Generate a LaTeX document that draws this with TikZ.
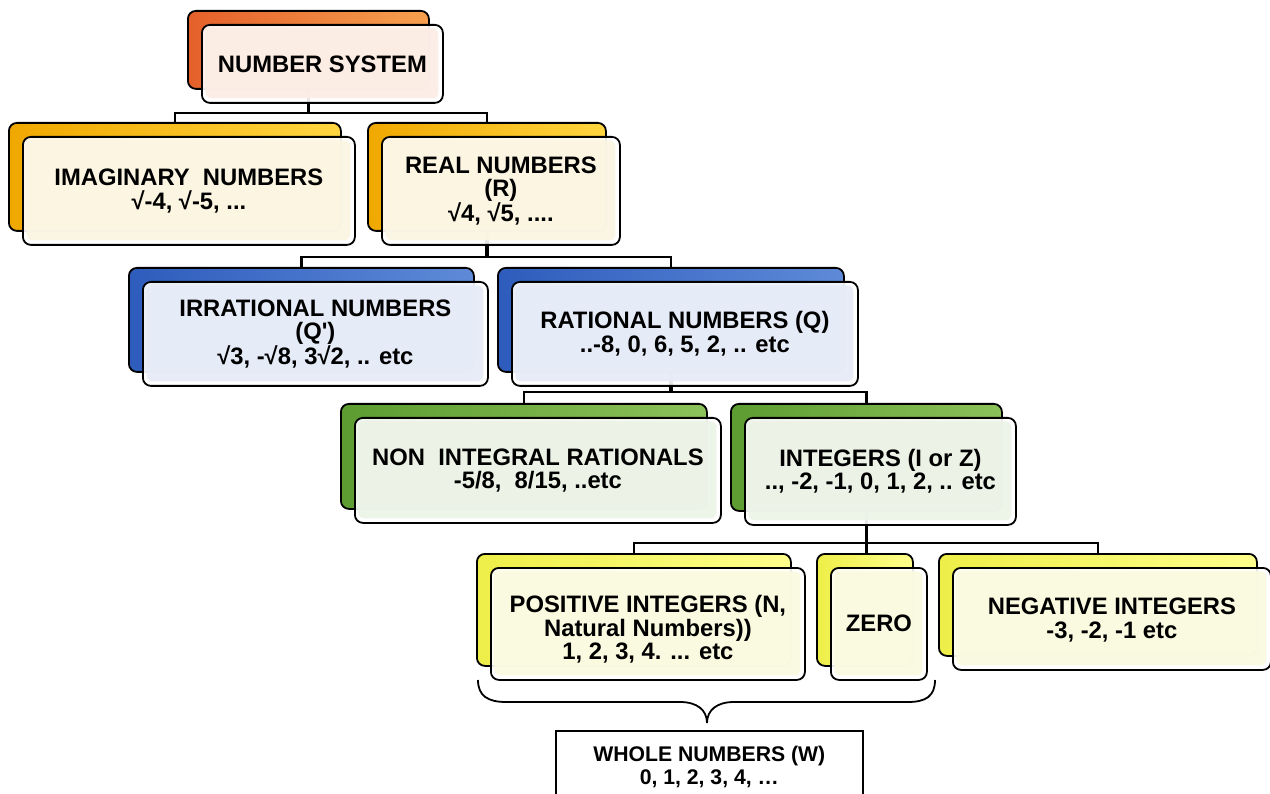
\documentclass[tikz,border=0pt]{standalone}
\usepackage{fontspec}
\setmainfont{Liberation Sans}
\usetikzlibrary{calc}
\pgfdeclarelayer{bg}
\pgfsetlayers{bg,main}
\definecolor{orL}{HTML}{E4602A}\definecolor{orR}{HTML}{F7A04E}
\definecolor{goL}{HTML}{F0A800}\definecolor{goR}{HTML}{FFD640}
\definecolor{blL}{HTML}{2E5CBC}\definecolor{blR}{HTML}{5E8AD8}
\definecolor{grL}{HTML}{5C9C30}\definecolor{grR}{HTML}{8CC25A}
\definecolor{yeL}{HTML}{EEEE48}\definecolor{yeR}{HTML}{FFFF8C}
\definecolor{fOr}{HTML}{FCEDE4}
\definecolor{fGo}{HTML}{FBF5E2}
\definecolor{fBl}{HTML}{E5EBF7}
\definecolor{fGr}{HTML}{ECF3E6}
\definecolor{fYe}{HTML}{FAFADF}
\tikzset{
  backbox/.style={draw=black, line width=1.8pt, rounded corners=8pt, inner sep=0pt},
  frontbox/.style={draw=black, line width=1.8pt, rounded corners=8pt, fill=white,
    fill opacity=0.9, text opacity=1, align=center, inner sep=0pt,
    font=\fontsize{23.8}{23.5}\selectfont\bfseries,
    path picture={\fill[#1, rounded corners=6pt]
      ([shift={(3.5pt,-3.5pt)}]path picture bounding box.north west) rectangle
      ([shift={(-4.5pt,4.5pt)}]path picture bounding box.south east);}},
  conn/.style={draw=black, line width=2.4pt},
  stem/.style={draw=black, line width=3.4pt},
  whitebox/.style={draw=black, line width=1.6pt, fill=white, align=center, inner sep=0pt,
    font=\fontsize{21.2}{23}\selectfont\bfseries}
}
\newcommand{\tbox}[8]{%
  \node[backbox,#6,minimum width=#4,minimum height=#5,anchor=north west] (#1b) at (#2,#3) {};
  \node[frontbox=#7,minimum width=#4,minimum height=#5,anchor=north west] (#1)
     at ([shift={(14pt,-14pt)}]#1b.north west) {#8};
}
\newcommand{\lowered}[2]{\raisebox{0pt}[\dimexpr\height+#1\relax][\depth]{\begin{tabular}{@{}c@{}}#2\end{tabular}}}
\begin{document}
\begin{tikzpicture}[x=1pt,y=-1pt]
\clip (0,0) rectangle (1270,794);
\begin{pgfonlayer}{bg}
\fill[white] (0,0) rectangle (1270,794);
\end{pgfonlayer}
\tbox{ns}{187}{10}{241}{78}{left color=orL,right color=orR}{fOr}{NUMBER SYSTEM}
\tbox{imag}{8}{122}{332}{108}{left color=goL,right color=goR}{fGo}{IMAGINARY\ \ NUMBERS\\√-4, √-5, ...}
\tbox{real}{367}{122}{238}{108}{left color=goL,right color=goR}{fGo}{REAL NUMBERS\\(R)\\√4, √5, ....}
\tbox{irr}{128}{267}{345}{104}{left color=blL,right color=blR}{fBl}{IRRATIONAL NUMBERS\\(Q\textquotesingle)\\√3, -√8, 3√2, .. etc}
\tbox{rat}{497}{267}{346}{104}{left color=blL,right color=blR}{fBl}{RATIONAL NUMBERS (Q)\\..-8, 0, 6, 5, 2, .. etc}
\tbox{non}{340}{403}{366}{105}{left color=grL,right color=grR}{fGr}{NON\ \ INTEGRAL RATIONALS\\-5/8,\ \ 8/15, ..etc}
\tbox{int}{730}{403}{271}{107}{left color=grL,right color=grR}{fGr}{INTEGERS (I or Z)\\..,\ -2, -1, 0, 1, 2, .. etc}
\tbox{pos}{476}{553}{314}{112}{left color=yeL,right color=yeR}{fYe}{\lowered{14pt}{POSITIVE INTEGERS (N,\\Natural Numbers))\\1, 2, 3, 4. ... etc}}
\tbox{zero}{816}{553}{96}{112}{left color=yeL,right color=yeR}{fYe}{\lowered{6pt}{ZERO}}
\tbox{neg}{938}{553}{318}{102}{left color=yeL,right color=yeR}{fYe}{\lowered{5pt}{NEGATIVE INTEGERS\\-3, -2, -1 etc}}
\node[whitebox, minimum width=307, minimum height=73, anchor=north west] (whole) at (555,730)
  {WHOLE NUMBERS (W)\\0, 1, 2, 3, 4, …};
\coordinate (busA) at (0,113);
\coordinate (busB) at (0,257);
\coordinate (busC) at (0,392);
\coordinate (busD) at (0,543);
\begin{pgfonlayer}{bg}
\draw[stem] (nsb.south) -- (nsb.south |- busA);
\draw[conn] (imagb.north) -- (imagb.north |- busA) -- (realb.north |- busA) -- (realb.north);
\draw[stem] (realb.south) -- (realb.south |- busB);
\draw[conn] (irrb.north) -- (irrb.north |- busB) -- (ratb.north |- busB) -- (ratb.north);
\draw[stem] (ratb.south) -- (ratb.south |- busC);
\draw[conn] (nonb.north) -- (nonb.north |- busC) -- (intb.north |- busC) -- (intb.north);
\draw[stem] (intb.south) -- (intb.south |- zerob.north);
\draw[conn] (posb.north) -- (posb.north |- busD) -- (negb.north |- busD) -- (negb.north);
\end{pgfonlayer}
\draw[line width=1.8pt]
  (478,680) .. controls (478,696) and (488,702) .. (506,702) -- (680,702)
  .. controls (697,702) and (707,710) .. (707,723)
  .. controls (707,710) and (717,702) .. (734,702) -- (908,702)
  .. controls (926,702) and (935,696) .. (935,680);
\end{tikzpicture}
\end{document}
